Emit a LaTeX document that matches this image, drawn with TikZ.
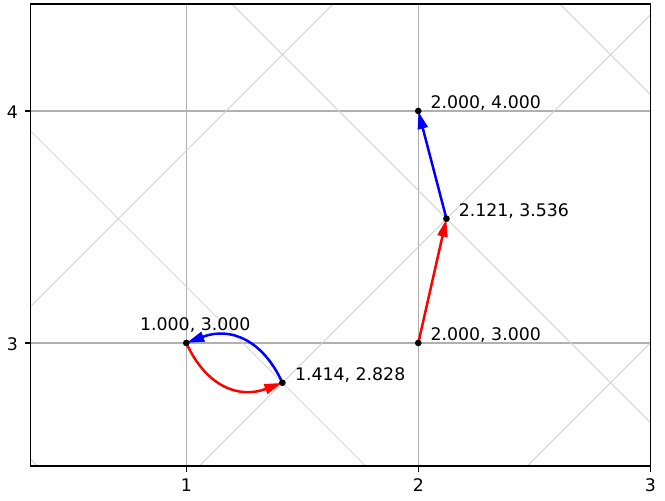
\documentclass[tikz,border=0pt]{standalone}
\usepackage{fontspec}
\setmainfont{DejaVu Sans}
\usetikzlibrary{arrows.meta}
\definecolor{gridgray}{RGB}{176,176,176}
\definecolor{diaggray}{RGB}{208,208,208}
\begin{document}
\begin{tikzpicture}[x=139.2pt,y=139.2pt,
  font=\fontsize{10.4}{12}\selectfont,
  gridline/.style={draw=gridgray, line width=0.8pt},
  diagline/.style={draw=diaggray, line width=0.5pt},
  spine/.style={draw=black, line width=0.9pt},
  ticklbl/.style={inner sep=0pt, text=black},
  ptlbl/.style={inner sep=0pt, text=black},
  dot/.style={fill=black, draw=none},
  fwd/.style={draw=red, line width=1.5pt, shorten >=0.3pt,
    -{Triangle[length=10.5pt,width=6pt]}},
  bwd/.style={draw=blue, line width=1.5pt, shorten >=0.3pt,
    -{Triangle[length=10.5pt,width=6pt]}}
]
\useasboundingbox (0.197,2.319) rectangle (3.0634,4.4784);
% axes corners
\coordinate (ll) at (0.3284,2.4698);
\coordinate (ur) at (3.0,4.4612);
% grid
\begin{scope}
\clip (ll) rectangle (ur);
\foreach \gx in {1,2,3} \draw[gridline] (\gx,2.4698) -- (\gx,4.4612);
\foreach \gy in {3,4} \draw[gridline] (0.3284,\gy) -- (3.0,\gy);
% rotated grid lines
\foreach \k in {2,3,4,5} \draw[diagline] (0,{\k*1.414214}) -- (3.5,{\k*1.414214-3.5});
\foreach \k in {0,1,2,3} \draw[diagline] (0,{\k*1.414214}) -- (3.5,{\k*1.414214+3.5});
\end{scope}
% spines
\draw[spine] (ll) rectangle (ur);
% ticks
\foreach \gx in {1,2,3} {
  \draw[spine] (\gx,2.4698) -- ++(0,-3.5pt);
  \node[ticklbl, anchor=base] (xl\gx) at ([yshift=-15.4pt]\gx,2.4698) {\gx};
}
\foreach \gy in {3,4} {
  \draw[spine] (0.3284,\gy) -- ++(-3.5pt,0);
  \node[ticklbl, anchor=base east] (yl\gy) at ([xshift=-7.3pt,yshift=-4.4pt]0.3284,\gy) {\gy};
}
% points
\coordinate (pA) at (1,3);
\coordinate (pB) at (1.414214,2.828427);
\coordinate (pC) at (2,3);
\coordinate (pD) at (2.121320,3.535534);
\coordinate (pE) at (2,4);
% arrows
\draw[fwd] (pA) to[bend right=43, looseness=1.16] (pB);
\draw[bwd] (pB) to[bend right=43, looseness=1.16] (pA);
\draw[fwd] (pC) -- (pD);
\draw[bwd] (pD) -- (pE);
% dots
\foreach \p in {pA,pB,pC,pD,pE} \fill[dot] (\p) circle (2pt);
% labels
\node[ptlbl, anchor=base] (lA) at ([xshift=5.4pt,yshift=7.2pt]pA) {1.000, 3.000};
\node[ptlbl, anchor=base west] (lB) at ([xshift=7.4pt,yshift=1.4pt]pB) {1.414, 2.828};
\node[ptlbl, anchor=base west] (lC) at ([xshift=7.2pt,yshift=1.7pt]pC) {2.000, 3.000};
\node[ptlbl, anchor=base west] (lD) at ([xshift=7.2pt,yshift=1.4pt]pD) {2.121, 3.536};
\node[ptlbl, anchor=base west] (lE) at ([xshift=7.2pt,yshift=1.6pt]pE) {2.000, 4.000};
\end{tikzpicture}
\end{document}
